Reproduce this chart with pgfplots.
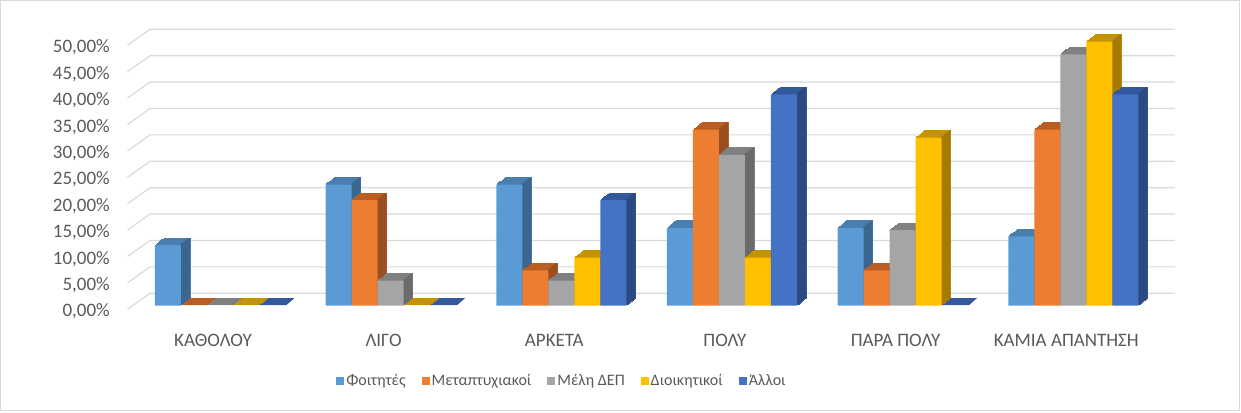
\documentclass[border=0pt]{standalone}
\usepackage{pgfplots}
\pgfplotsset{compat=1.18}
\usepackage{pgfplotstable}
\usepackage{fontspec}
\setmainfont{Carlito}

\definecolor{labelgray}{HTML}{595959}
\definecolor{gridgray}{HTML}{D9D9D9}
\definecolor{bordergray}{HTML}{D9D9D9}
% front / top / side colours
\definecolor{cAf}{HTML}{5B9BD5}\definecolor{cAt}{HTML}{4A7EAF}\definecolor{cAs}{HTML}{3A6690}
\definecolor{cBf}{HTML}{ED7D31}\definecolor{cBt}{HTML}{B85E22}\definecolor{cBs}{HTML}{9C4F1E}
\definecolor{cCf}{HTML}{A5A5A5}\definecolor{cCt}{HTML}{808080}\definecolor{cCs}{HTML}{6B6B6B}
\definecolor{cDf}{HTML}{FFC000}\definecolor{cDt}{HTML}{C49300}\definecolor{cDs}{HTML}{A67C00}
\definecolor{cEf}{HTML}{4472C4}\definecolor{cEt}{HTML}{34589C}\definecolor{cEs}{HTML}{2C4A80}

\pgfplotstableread{
x a b c d e
0 11.48 0 0 0 0
1 22.95 20.00 4.76 0 0
2 22.95 6.67 4.76 9.09 20.00
3 14.75 33.33 28.57 9.09 40.00
4 14.75 6.67 14.29 31.82 0
5 13.11 33.33 47.62 50.00 40.00
}\datatable

% #1 column, #2 front, #3 top, #4 side, #5 bar shift, #6 side strip shift
\newcommand{\tdbar}[6]{%
  \pgfplotsinvokeforeach{1,...,8}{%
    \addplot[forget plot, fill=#3, draw=#3, line width=0.8pt, bar shift=#5,
      transform canvas={shift={(##1*1.125pt,##1*0.875pt)}}] table[x=x,y=#1]{\datatable};
  }%
  \pgfplotsinvokeforeach{1,...,8}{%
    \addplot[forget plot, fill=#4, draw=none, bar width=2pt, bar shift=#6,
      transform canvas={shift={(##1*1.125pt,##1*0.875pt)}}] table[x=x,y=#1]{\datatable};
  }%
  \addplot[fill=#2, draw=none, bar shift=#5] table[x=x,y=#1]{\datatable};
}

\begin{document}
\begin{tikzpicture}[x=1pt,y=1pt]
\begin{axis}[
  at={(134.65pt,106.3pt)}, anchor=south west,
  scale only axis, width=1024pt, height=264pt,
  xmin=-0.5, xmax=5.5, ymin=0, ymax=50,
  clip=false, set layers,
  ybar, bar width=26pt,
  axis line style={draw=none}, tick style={draw=none},
  xtick={0,...,5},
  xticklabels={ΚΑΘΟΛΟΥ, ΛΙΓΟ, ΑΡΚΕΤΑ, ΠΟΛΥ, ΠΑΡΑ ΠΟΛΥ, ΚΑΜΙΑ ΑΠΑΝΤΗΣΗ},
  ytick={0,5,...,50},
  yticklabel={\pgfmathprintnumber[fixed,fixed zerofill,precision=2,use comma,assume math mode=true]{\tick}\%},
  yticklabel style={anchor=east, inner sep=0pt, xshift=-24.65pt, yshift=-6pt,
    font=\fontsize{19}{21}\selectfont, text=labelgray},
  xticklabel style={anchor=center, inner sep=0pt, xshift=-7pt, yshift=-30.3pt,
    font=\fontsize{19}{21}\selectfont, text=labelgray},
  legend style={at={(0.4173,-0.285)}, anchor=center, draw=none, fill=none,
    legend columns=5, font=\fontsize{16}{18}\selectfont, text=labelgray,
    /tikz/every even column/.append style={column sep=14pt},
    nodes={inner sep=2pt}},
  legend image code/.code={\fill[#1] (0pt,-4pt) rectangle (8pt,4pt);},
]
\begin{pgfonlayer}{axis background}
\pgfplotsinvokeforeach{0,5,...,50}{
  \draw[gridgray, line width=1.2pt]
    ([xshift=-7.15pt,yshift=-3.6pt]axis cs:-0.5,#1) --
    ([xshift=15.35pt,yshift=12.4pt]axis cs:-0.5,#1) --
    ([xshift=16.35pt,yshift=12.4pt]axis cs:5.5,#1);
}
\end{pgfonlayer}
\tdbar{a}{cAf}{cAt}{cAs}{-52pt}{-40pt}
\tdbar{b}{cBf}{cBt}{cBs}{-26pt}{-14pt}
\tdbar{c}{cCf}{cCt}{cCs}{0pt}{12pt}
\tdbar{d}{cDf}{cDt}{cDs}{26pt}{38pt}
\tdbar{e}{cEf}{cEt}{cEs}{52pt}{64pt}
\legend{Φοιτητές, Μεταπτυχιακοί, Μέλη ΔΕΠ, Διοικητικοί, Άλλοι}
\end{axis}
\pgfresetboundingbox
\path[use as bounding box] (0,0) rectangle (1241,412);
\draw[color=bordergray, line width=1.3pt] (0.65,1.5) rectangle (1239.5,411.35);
\end{tikzpicture}
\end{document}
